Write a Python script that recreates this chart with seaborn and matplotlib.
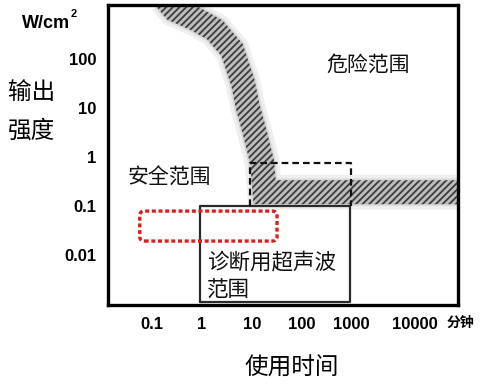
import numpy as np
import matplotlib
matplotlib.use("Agg")
import matplotlib.pyplot as plt
import seaborn as sns
from matplotlib.patches import Polygon, FancyBboxPatch
from matplotlib.transforms import ScaledTranslation

sns.set_theme(style="white")
plt.rcParams["font.family"] = ["Noto Sans CJK SC", "DejaVu Sans"]
plt.rcParams["hatch.linewidth"] = 1.3

# ---------------- data ----------------
x_ticks = [0.1, 1, 10, 100, 1000, 10000]
x_tick_labels = ["0.1", "1", "10", "100", "1000", "10000"]
y_ticks = [0.01, 0.1, 1, 10, 100]
y_tick_labels = ["0.01", "0.1", "1", "10", "100"]

# boundary band (centre line) between safe and dangerous regions
boundary_time = [0.14, 0.28, 0.72, 1.8, 4.0, 6.6, 8.3, 11.5, 16, 18, 240000]
boundary_intensity = [2400, 1030, 675, 400, 155, 33, 10.5, 3.1, 0.79, 0.19, 0.19]

# diagnostic ultrasound range (solid box)
diag_time = [0.9, 950]
diag_intensity = [0.00107, 0.1]
# dashed box
dash_time = [9.1, 970]
dash_intensity = [0.1, 0.75]
# red dotted rounded box
red_time = [0.056, 32]
red_intensity = [0.019, 0.078]

# ---------------- figure ----------------
fig = plt.figure(figsize=(4.9, 3.89), dpi=100)
fig.patch.set_facecolor("white")
ax = fig.add_axes([108 / 490, 1 - 305 / 389, 350 / 490, 300 / 389])
ax.set_facecolor("white")
ax.set_xscale("log")
ax.set_yscale("log")
xlim = (10 ** -1.89, 10 ** 5.14)
ylim = (10 ** -3.03, 10 ** 3.11)
ax.set_xlim(*xlim)
ax.set_ylim(*ylim)

# soft halo of the band
sns.lineplot(x=boundary_time, y=boundary_intensity, sort=False, estimator=None,
             ax=ax, color="#efefef", lw=25, solid_joinstyle="miter",
             solid_capstyle="butt")
sns.lineplot(x=boundary_time, y=boundary_intensity, sort=False, estimator=None,
             ax=ax, color="#dadada", lw=20, solid_joinstyle="miter",
             solid_capstyle="butt")


def band_polygon(xd, yd, half_px):
    pts = ax.transData.transform(np.column_stack([xd, yd]))
    n = len(pts)
    offs = []
    for i in range(n):
        if i == 0 or i == n - 1:
            d = pts[1] - pts[0] if i == 0 else pts[-1] - pts[-2]
            d = d / np.linalg.norm(d)
            offs.append(np.array([-d[1], d[0]]))
            continue
        d1 = pts[i] - pts[i - 1]
        d1 = d1 / np.linalg.norm(d1)
        d2 = pts[i + 1] - pts[i]
        d2 = d2 / np.linalg.norm(d2)
        d = d1 + d2
        d = d / np.linalg.norm(d)
        nrm = np.array([-d[1], d[0]])
        n1 = np.array([-d1[1], d1[0]])
        c = max(np.dot(nrm, n1), 0.5)
        offs.append(nrm / c)
    offs = np.array(offs)
    left = pts + offs * half_px
    right = pts - offs * half_px
    poly = np.vstack([left, right[::-1]])
    return ax.transData.inverted().transform(poly)


band = Polygon(band_polygon(boundary_time, boundary_intensity, 12),
               closed=True, facecolor="#bdbdbd", edgecolor="#3c3c3c",
               lw=0, hatch="/////", zorder=2)
ax.add_patch(band)

# solid box (diagnostic range)
sns.lineplot(x=[diag_time[0], diag_time[0], diag_time[1], diag_time[1], diag_time[0]],
             y=[diag_intensity[0], diag_intensity[1], diag_intensity[1],
                diag_intensity[0], diag_intensity[0]],
             sort=False, estimator=None, ax=ax, color="#2a2a2a", lw=1.6, zorder=4)
# dashed box
sns.lineplot(x=[dash_time[0], dash_time[0], dash_time[1], dash_time[1]],
             y=[dash_intensity[0], dash_intensity[1], dash_intensity[1],
                dash_intensity[0]],
             sort=False, estimator=None, ax=ax, color="#111111", lw=1.6,
             linestyle=(0, (3.0, 1.8)), zorder=4)

# red dotted rounded rectangle
p0 = ax.transAxes.inverted().transform(ax.transData.transform((red_time[0], red_intensity[0])))
p1 = ax.transAxes.inverted().transform(ax.transData.transform((red_time[1], red_intensity[1])))
red = FancyBboxPatch((p0[0], p0[1]), p1[0] - p0[0], p1[1] - p0[1],
                     boxstyle="round,pad=0,rounding_size=0.014",
                     transform=ax.transAxes, fill=False, edgecolor="#dc1e1e",
                     lw=2.4, linestyle=(0, (1.2, 0.8)), capstyle="butt", zorder=5)
ax.add_patch(red)

ax.set_xlim(*xlim)
ax.set_ylim(*ylim)

# ticks
tick_font = dict(family="Liberation Sans", weight="bold", size=12)
ax.set_xticks(x_ticks)
ax.set_xticklabels(x_tick_labels, fontdict=tick_font)
ax.set_yticks(y_ticks)
ax.set_yticklabels(y_tick_labels, fontdict=tick_font)
ax.minorticks_off()
ax.tick_params(axis="both", length=0, pad=8.5, colors="black")
lab = ax.get_xticklabels()[-1]
lab.set_transform(lab.get_transform() + ScaledTranslation(0.14, 0, fig.dpi_scale_trans))
ax.grid(False)
for s in ax.spines.values():
    s.set_linewidth(2.4)
    s.set_color("black")
ax.set_xlabel("")
ax.set_ylabel("")

# annotations
ax.text(320, 77, "危险范围", fontsize=15, ha="left", va="center", color="#111111")
ax.text(0.032, 0.37, "安全范围", fontsize=15, ha="left", va="center", color="#111111")
ax.text(1.25, 0.0036, "诊断用超声波\n范围", fontsize=15.5, ha="left", va="center",
        linespacing=1.35, color="#111111")

fig.text(22 / 490, 1 - 23 / 389, "W/cm", family="Liberation Sans", weight="bold",
         fontsize=13, ha="left", va="center", color="black")
fig.text(71 / 490, 1 - 14 / 389, "2", family="Liberation Sans", weight="bold",
         fontsize=8, ha="left", va="center", color="black")
fig.text(32 / 490, 1 - 112 / 389, "输出\n强度", fontsize=17, ha="center", va="center",
         linespacing=1.9, color="black")
fig.text(292 / 490, 1 - 368 / 389, "使用时间", fontsize=17, ha="center", va="center",
         color="black")
fig.text(447 / 490, 1 - 323 / 389, "分钟", fontsize=10, ha="left", va="center",
         weight="bold", color="black")

fig.savefig("out.png", dpi=100, facecolor="white")
